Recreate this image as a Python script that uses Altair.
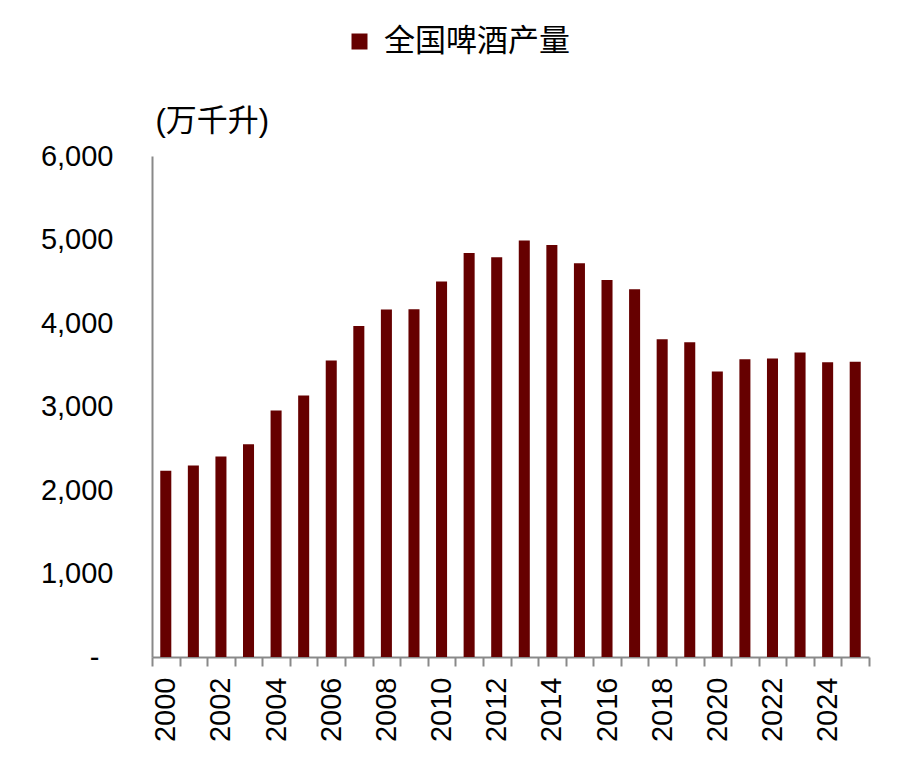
import altair as alt
import pandas as pd

years = [str(y) for y in range(2000, 2026)]
output = [2232, 2293, 2402, 2548, 2953, 3132, 3550, 3963, 4162, 4165,
          4497, 4838, 4786, 4988, 4935, 4716, 4514, 4405, 3805, 3768,
          3419, 3565, 3574, 3647, 3529, 3537]
series_name = "全国啤酒产量"
unit_label = "(万千升)"
y_ticks = [0, 1000, 2000, 3000, 4000, 5000, 6000]

df = pd.DataFrame({"year": years, "value": output, "series": [series_name] * len(years)})

LATIN = "Liberation Sans, Arial, Noto Sans CJK SC"
CJK = "Liberation Sans, Noto Sans CJK SC"
AXIS_GREY = "#898989"

chart = alt.Chart(df).mark_bar(width=alt.RelativeBandSize(0.4)).encode(
    x=alt.X(
        "year:O",
        sort=years,
        scale=alt.Scale(paddingInner=0, paddingOuter=0),
        axis=alt.Axis(
            title=None,
            tickBand="extent",
            labelExpr="toNumber(datum.value) % 2 == 0 ? datum.value : ''",
            labelAngle=270,
            labelAlign="right",
            labelBaseline="middle",
            labelPadding=11,
            labelFont=LATIN,
            labelFontSize=29,
            labelColor="#000000",
            labelOverlap=False,
            labelFlush=False,
            domainColor=AXIS_GREY,
            domainWidth=2,
            tickColor=AXIS_GREY,
            tickWidth=2,
            tickSize=9,
            grid=False,
        ),
    ),
    y=alt.Y(
        "value:Q",
        scale=alt.Scale(domain=[0, 6000], nice=False),
        axis=alt.Axis(
            values=y_ticks,
            labelExpr="datum.value == 0 ? '-' : format(datum.value, ',')",
            title=unit_label,
            titleAngle=0,
            titleAlign="left",
            titleBaseline="middle",
            titleX=3,
            titleY=-35,
            titleFont=CJK,
            titleFontSize=31,
            titleFontWeight="normal",
            titleColor="#000000",
            labelFont=LATIN,
            labelFontSize=29,
            labelColor="#000000",
            labelPadding={"condition": {"test": "datum.value == 0", "value": 53}, "value": 39},
            ticks=False,
            tickSize=0,
            domainColor=AXIS_GREY,
            domainWidth=2,
            grid=False,
        ),
    ),
    color=alt.Color(
        "series:N",
        scale=alt.Scale(range=["#660000"]),
        legend=alt.Legend(
            title=None,
            orient="none",
            legendX=192,
            legendY=-130,
            symbolType="square",
            symbolSize=256,
            symbolStrokeWidth=0,
            labelFont=CJK,
            labelFontSize=31,
            labelColor="#000000",
            labelOffset=9,
            labelLimit=400,
            padding=0,
        ),
    ),
).properties(
    width=717,
    height=501,
    background="#ffffff",
    autosize=alt.AutoSizeParams(type="none"),
    padding={"left": 144, "top": 148, "right": 30, "bottom": 90},
).configure_view(stroke=None)

chart.save("out.html", embed_options={"renderer": "svg", "actions": False})
